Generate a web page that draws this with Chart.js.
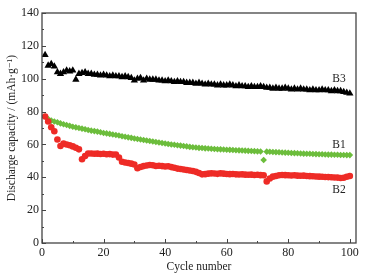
<!DOCTYPE html>
<html>
<head>
<meta charset="utf-8">
<script src="https://cdn.jsdelivr.net/npm/chart.js@4"></script>
<style>
  html, body { margin: 0; padding: 0; background: #fff; }
  #wrap { width: 367px; height: 279px; position: relative; }
</style>
</head>
<body>
<div id="wrap"><canvas id="chart_capacity"></canvas></div>
<script>
// cycle numbers 1..100
var cycles = [];
for (var i = 1; i <= 100; i++) cycles.push(i);

var b3Values = [
  114.5, 108, 109, 107.5, 104, 103, 104, 105, 104.5, 105,
  99.5, 103, 103.5, 104, 103, 103, 102.5, 102.5, 102, 102.5,
  102, 101.5, 102, 101.5, 101.5, 101, 101.5, 101, 100.5, 99,
  100, 100.5, 99, 100, 99.5, 99.5, 99.5, 99, 99, 98.5,
  99, 98.5, 98, 98.5, 98, 98, 97.5, 97.5, 97.5, 97,
  97.5, 97, 96.5, 97, 96.5, 96.5, 96, 96.5, 96, 96,
  96.5, 96, 95.5, 96, 95.5, 95.5, 95, 95.5, 95, 95,
  95.5, 95, 94.5, 94.5, 94, 94.5, 94, 94, 94.5, 94,
  93.5, 94, 93.5, 94, 93.5, 93.5, 93, 93.5, 93, 93,
  93.5, 93, 93, 92.5, 93, 92.5, 92.5, 92, 91.5, 91
];

var b1Values = [
  77, 75.5, 74.5, 74, 73.5, 72.8, 72.3, 71.8, 71.3, 70.8,
  70.4, 70, 69.6, 69.2, 68.8, 68.4, 68.1, 67.8, 67.4, 67,
  66.7, 66.4, 66, 65.7, 65.4, 65, 64.7, 64.3, 64, 63.6,
  63.3, 63, 62.7, 62.4, 62.1, 61.8, 61.5, 61.2, 60.9, 60.6,
  60.3, 60, 59.8, 59.5, 59.3, 59, 58.8, 58.5, 58.3, 58.1,
  57.9, 57.8, 57.6, 57.5, 57.4, 57.2, 57.1, 57, 56.9, 56.8,
  56.7, 56.6, 56.5, 56.4, 56.3, 56.2, 56.1, 56, 55.9, 55.8,
  55.7, 50.5, 55.6, 55.5, 55.4, 55.3, 55.2, 55.1, 55, 54.9,
  54.8, 54.7, 54.6, 54.5, 54.4, 54.3, 54.3, 54.2, 54.1, 54,
  54, 53.9, 53.8, 53.8, 53.7, 53.7, 53.6, 53.6, 53.5, 53.5
];

var b2Values = [
  77, 74, 70.5, 68, 63, 59, 60.5, 60, 59.5, 58.8,
  58, 57, 51, 53, 54.5, 54.5, 54.3, 54.4, 54.2, 54.3,
  54, 54.1, 53.8, 53.9, 52, 49.5, 49, 48.7, 48.3, 47.8,
  45.5, 46.3, 46.8, 47.2, 47.5, 47.3, 46.9, 47, 46.8, 46.6,
  46.7, 46.2, 45.8, 45.3, 45, 44.7, 44.4, 44.1, 43.8, 43.3,
  42.6, 41.8, 41.9, 42.2, 42.4, 42.3, 42.1, 42.4, 42.2, 42,
  41.9, 42, 41.8, 41.7, 41.8, 41.6, 41.5, 41.6, 41.4, 41.5,
  41.3, 41.2, 37.5, 39.3, 40.4, 40.8, 41.2, 41.4, 41.3, 41.2,
  41.1, 41.2, 41, 40.9, 41, 40.8, 40.7, 40.6, 40.5, 40.4,
  40.3, 40.2, 40.1, 40, 39.9, 39.8, 39.6, 39.7, 40.3, 40.8
];

var seriesNames = ['B3', 'B2', 'B1'];
// label anchor positions in data units [cycle, capacity]
var seriesLabelPos = [[96.5, 100], [96.5, 32.5], [96.5, 59.5]];

var xTicks = [0, 20, 40, 60, 80, 100];
var xMinor = [10, 30, 50, 70, 90];
var yTicks = [0, 20, 40, 60, 80, 100, 120, 140];
var yMinor = [10, 30, 50, 70, 90, 110, 130];

function toXY(vals) {
  return vals.map(function (v, i) { return { x: cycles[i], y: v }; });
}

var serif = "'Liberation Serif', 'DejaVu Serif', serif";
var axisColor = '#444';

var chart_capacity = new Chart(document.getElementById('chart_capacity'), {
    type: 'scatter',
    data: {
        datasets: [
            {
                label: 'B3',
                data: toXY(b3Values),
                pointStyle: 'triangle',
                pointRadius: 4.2,
                backgroundColor: '#000',
                borderColor: '#000',
                borderWidth: 0
            },
            {
                label: 'B2',
                data: toXY(b2Values),
                pointStyle: 'circle',
                pointRadius: 3.3,
                backgroundColor: '#ee2b26',
                borderColor: '#ee2b26',
                borderWidth: 0
            },
            {
                label: 'B1',
                data: toXY(b1Values),
                pointStyle: 'rectRot',
                pointRadius: 3.3,
                backgroundColor: '#6cbd3c',
                borderColor: '#6cbd3c',
                borderWidth: 0
            }
        ]
    },
    options: {
        animation: false,
        responsive: true,
        maintainAspectRatio: false,
        layout: { padding: { top: 13, right: 11, left: 0, bottom: 0 } },
        plugins: {
            legend: { display: false },
            tooltip: { enabled: false }
        },
        scales: {
            x: {
                type: 'linear',
                min: 0,
                max: 102,
                grid: { display: false, drawTicks: false },
                border: { display: false },
                ticks: {
                    stepSize: 20,
                    includeBounds: false,
                    maxRotation: 0,
                    padding: 3,
                    color: '#222',
                    font: { family: serif, size: 12 }
                },
                afterBuildTicks: function (scale) {
                    scale.ticks = xTicks.map(function (v) { return { value: v }; });
                },
                afterFit: function (scale) { scale.height = 36; },
                title: {
                    display: true,
                    text: 'Cycle number',
                    color: '#222',
                    font: { family: serif, size: 11.5 },
                    padding: { top: 0, bottom: 5 }
                }
            },
            y: {
                type: 'linear',
                min: 0,
                max: 140,
                grid: { display: false, drawTicks: false },
                border: { display: false },
                ticks: {
                    stepSize: 20,
                    padding: 3,
                    color: '#222',
                    font: { family: serif, size: 12 }
                },
                afterBuildTicks: function (scale) {
                    scale.ticks = yTicks.map(function (v) { return { value: v }; });
                },
                afterFit: function (scale) { scale.width = 42; },
                title: {
                    display: true,
                    text: 'Discharge capacity / (mAh\u00b7g\u207b\u00b9)',
                    color: '#222',
                    font: { family: serif, size: 11.5 },
                    padding: { top: 5, bottom: 0 }
                }
            }
        }
    },
    plugins: [{
        id: 'frameAndLabels',
        beforeDraw: function (chart) {
            var ctx = chart.ctx;
            ctx.save();
            ctx.fillStyle = 'white';
            ctx.fillRect(0, 0, chart.width, chart.height);
            ctx.restore();
        },
        afterDraw: function (chart) {
            var ctx = chart.ctx;
            var a = chart.chartArea;
            var xs = chart.scales.x, ys = chart.scales.y;
            ctx.save();
            ctx.strokeStyle = axisColor;
            ctx.lineWidth = 1.3;
            ctx.strokeRect(a.left, a.top, a.right - a.left, a.bottom - a.top);
            ctx.lineWidth = 1;
            ctx.beginPath();
            xTicks.forEach(function (v) {
                var px = Math.round(xs.getPixelForValue(v)) + 0.5;
                ctx.moveTo(px, a.bottom); ctx.lineTo(px, a.bottom - 4);
            });
            xMinor.forEach(function (v) {
                var px = Math.round(xs.getPixelForValue(v)) + 0.5;
                ctx.moveTo(px, a.bottom); ctx.lineTo(px, a.bottom - 2);
            });
            yTicks.forEach(function (v) {
                var py = Math.round(ys.getPixelForValue(v)) + 0.5;
                ctx.moveTo(a.left, py); ctx.lineTo(a.left + 4, py);
            });
            yMinor.forEach(function (v) {
                var py = Math.round(ys.getPixelForValue(v)) + 0.5;
                ctx.moveTo(a.left, py); ctx.lineTo(a.left + 2, py);
            });
            ctx.stroke();
            // series labels
            ctx.fillStyle = '#222';
            ctx.font = '11.5px ' + serif;
            ctx.textAlign = 'center';
            ctx.textBaseline = 'middle';
            seriesNames.forEach(function (name, k) {
                var p = seriesLabelPos[k];
                ctx.fillText(name, xs.getPixelForValue(p[0]), ys.getPixelForValue(p[1]));
            });
            ctx.restore();
        }
    }]
});
</script>
</body>
</html>
